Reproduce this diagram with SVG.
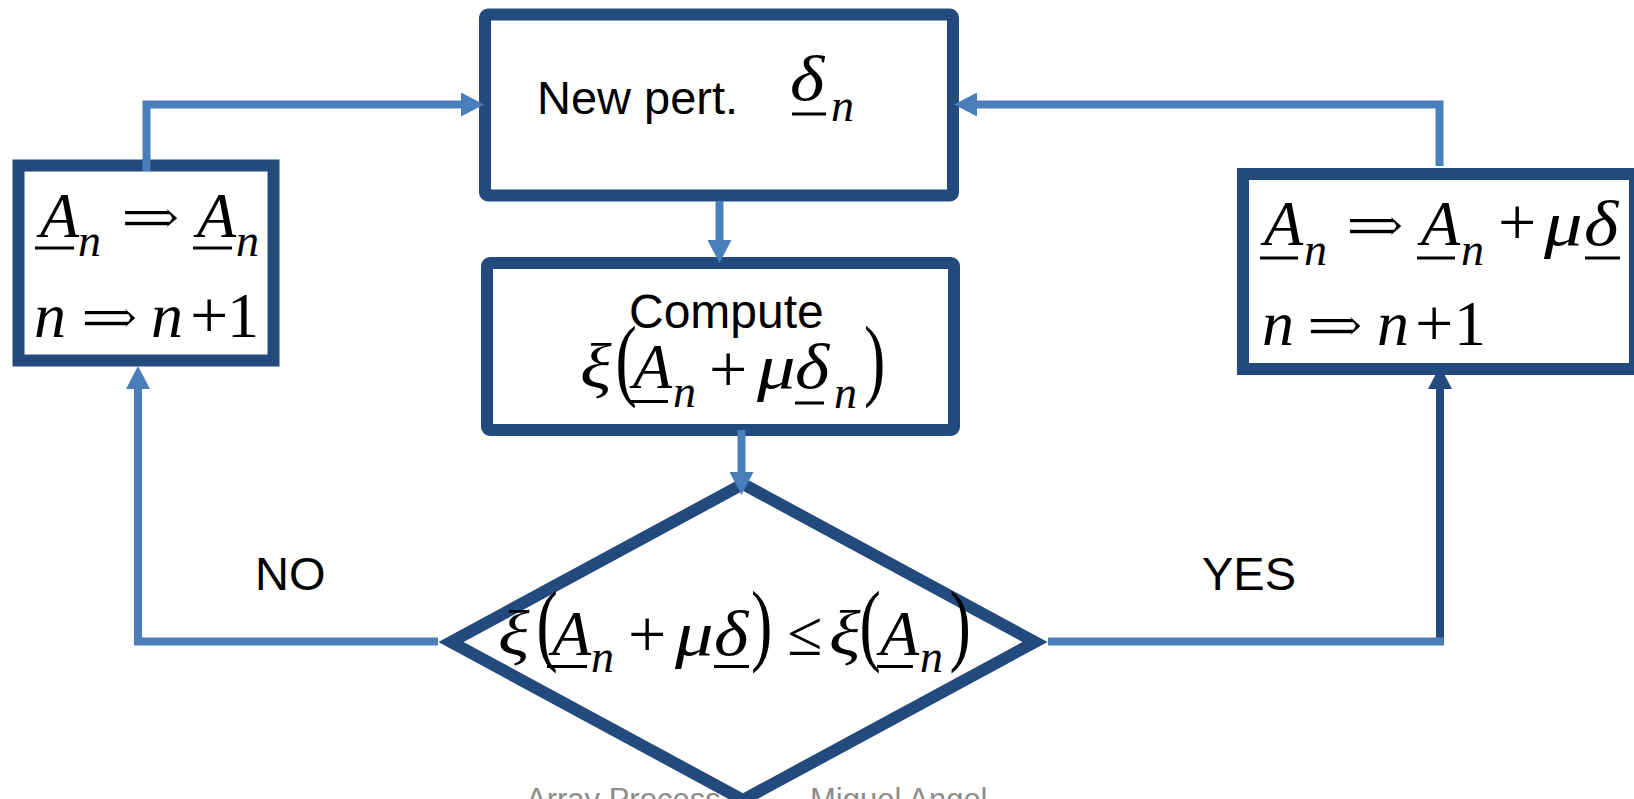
<svg xmlns="http://www.w3.org/2000/svg" width="1634" height="799" viewBox="0 0 1634 799">
  <style>
    .box { fill: #ffffff; stroke: #234A7D; stroke-width: 12; stroke-linejoin: miter; }
    .conn { fill: none; stroke: #4A7EBB; stroke-width: 8; stroke-linejoin: miter; }
    .conn-dark { stroke: #234A7D; }
    .lbl { font-family: 'Liberation Sans', Arial, sans-serif; font-size: 47px; fill: #000000; }
    .foot { font-family: 'Liberation Sans', Arial, sans-serif; font-size: 31px; fill: #8C8C8C; }
    .mi { font-family: 'Liberation Serif', 'Times New Roman', serif; font-style: italic; font-size: 64px; fill: #000000; }
    .sub { font-size: 46px; }
    .mr { font-family: 'Liberation Serif', 'Times New Roman', serif; font-size: 64px; fill: #000000; }
    .op { font-family: 'Liberation Serif', 'Times New Roman', serif; font-size: 68px; fill: #000000; }
    .arr { font-family: 'DejaVu Serif', serif; font-size: 64px; fill: #000000; stroke: #ffffff; stroke-width: 1.6px; }
    .ul { fill: #000000; }
  </style>
  <defs>
    <marker id="head" viewBox="0 0 23 24" refX="0" refY="12" markerWidth="23" markerHeight="24" markerUnits="userSpaceOnUse" orient="auto">
      <path d="M0,0 L23,12 L0,24 Z" fill="#4A7EBB"/>
    </marker>
    <marker id="head-dark" viewBox="0 0 23 24" refX="0" refY="12" markerWidth="23" markerHeight="24" markerUnits="userSpaceOnUse" orient="auto">
      <path d="M0,0 L23,12 L0,24 Z" fill="#234A7D"/>
    </marker>
  </defs>

  <!-- footer line, partly hidden by the decision diamond -->
  <g id="footer">
    <text class="foot" x="526" y="810">Array Process</text>
    <text class="foot" x="810" y="810">Miguel Angel</text>
  </g>

  <!-- perturbation box -->
  <g id="new-pert">
    <rect class="box" x="485" y="14.5" width="468" height="181" rx="3"/>
    <text class="lbl" x="537" y="114">New pert.</text>
    <text class="mi" transform="translate(790,100) scale(1.15,1)">δ</text>
    <rect class="ul" x="792" y="112.5" width="34" height="3"/>
    <text class="mi sub" x="831" y="121">n</text>
  </g>

  <!-- cost evaluation box -->
  <g id="compute">
    <rect class="box" x="487" y="263" width="467" height="167" rx="3"/>
    <text class="lbl" x="629" y="328" style="font-size:48px">Compute</text>
    <text class="mi" transform="translate(580,388) scale(1.15,1)">ξ</text>
    <text class="mr" transform="translate(615.5,389) scale(1,1.435)">(</text>
    <text class="mi" x="633" y="388">A</text>
    <rect class="ul" x="629" y="400" width="39" height="3"/>
    <text class="mi sub" x="673" y="407">n</text>
    <text class="op" x="709" y="392">+</text>
    <text class="mi" transform="translate(757,388) scale(1.2,1)">μ</text>
    <text class="mi" transform="translate(795,388) scale(1.15,1)">δ</text>
    <rect class="ul" x="795" y="401.5" width="29" height="3"/>
    <text class="mi sub" x="834" y="408">n</text>
    <text class="mr" transform="translate(864,389) scale(1,1.435)">)</text>
  </g>

  <!-- decision -->
  <g id="test">
    <polygon class="box" points="743,484 1035,642 743,800 451,642"/>
    <text class="mi" transform="translate(498,655) scale(1.15,1)">ξ</text>
    <text class="mr" transform="translate(536.5,654) scale(1,1.435)">(</text>
    <text class="mi" x="552" y="655">A</text>
    <rect class="ul" x="547" y="665" width="40" height="3"/>
    <text class="mi sub" x="591" y="672">n</text>
    <text class="op" x="628" y="657">+</text>
    <text class="mi" transform="translate(675,655) scale(1.2,1)">μ</text>
    <text class="mi" transform="translate(714,655) scale(1.15,1)">δ</text>
    <rect class="ul" x="714" y="665" width="35" height="3"/>
    <text class="mr" transform="translate(751,654) scale(1,1.435)">)</text>
    <text class="mr" x="787" y="655">≤</text>
    <text class="mi" transform="translate(829,655) scale(1.15,1)">ξ</text>
    <text class="mr" transform="translate(859.5,654) scale(1,1.435)">(</text>
    <text class="mi" x="880" y="655">A</text>
    <rect class="ul" x="877" y="665" width="36" height="3"/>
    <text class="mi sub" x="920" y="672">n</text>
    <text class="mr" transform="translate(949.5,654) scale(1,1.435)">)</text>
  </g>

  <!-- rejected step: keep the weights -->
  <g id="keep">
    <rect class="box" x="18.5" y="165.5" width="255" height="195"/>
    <text class="mi" x="40" y="237">A</text>
    <rect class="ul" x="35" y="246.5" width="39" height="3"/>
    <text class="mi sub" x="78" y="256">n</text>
    <text class="arr" x="120" y="239" textLength="61" lengthAdjust="spacingAndGlyphs">⇒</text>
    <text class="mi" x="197" y="237">A</text>
    <rect class="ul" x="193" y="246.5" width="39" height="3"/>
    <text class="mi sub" x="236" y="256">n</text>
    <text class="mi" x="34" y="337">n</text>
    <text class="arr" x="80" y="339" textLength="59" lengthAdjust="spacingAndGlyphs">⇒</text>
    <text class="mi" x="151" y="337">n</text>
    <text class="op" x="190" y="338">+</text>
    <text class="mr" x="227" y="337">1</text>
  </g>

  <!-- accepted step: update the weights -->
  <g id="update">
    <rect class="box" x="1243" y="174" width="392" height="195"/>
    <text class="mi" x="1264" y="245">A</text>
    <rect class="ul" x="1260" y="256.5" width="38" height="3"/>
    <text class="mi sub" x="1304" y="265">n</text>
    <text class="arr" x="1345" y="247" textLength="60" lengthAdjust="spacingAndGlyphs">⇒</text>
    <text class="mi" x="1421" y="245">A</text>
    <rect class="ul" x="1417" y="256.5" width="38" height="3"/>
    <text class="mi sub" x="1461" y="265">n</text>
    <text class="op" x="1498" y="245">+</text>
    <text class="mi" transform="translate(1544,245) scale(1.2,1)">μ</text>
    <text class="mi" transform="translate(1584,245) scale(1.15,1)">δ</text>
    <rect class="ul" x="1585" y="256.5" width="35" height="3"/>
    <text class="mi" x="1262" y="345">n</text>
    <text class="arr" x="1306" y="347" textLength="58" lengthAdjust="spacingAndGlyphs">⇒</text>
    <text class="mi" x="1377" y="345">n</text>
    <text class="op" x="1415" y="346">+</text>
    <text class="mr" x="1454" y="345">1</text>
  </g>

  <!-- branch labels -->
  <g id="labels">
    <text class="lbl" x="255" y="590">NO</text>
    <text class="lbl" x="1202" y="590">YES</text>
  </g>

  <!-- connectors -->
  <g id="connectors">
    <path class="conn" d="M146.5,171 V104.5 H461" marker-end="url(#head)"/>
    <path class="conn" d="M1439.5,166 V104.5 H977" marker-end="url(#head)"/>
    <path class="conn" d="M719.5,201 V240" marker-end="url(#head)"/>
    <path class="conn" d="M741.5,430 V472" marker-end="url(#head)"/>
    <path class="conn" d="M438,641.5 H138 V389" marker-end="url(#head)"/>
    <path class="conn conn-dark" d="M1440,641 V389" marker-end="url(#head-dark)"/>
    <path class="conn" d="M1048,641.5 H1444"/>
  </g>
</svg>
